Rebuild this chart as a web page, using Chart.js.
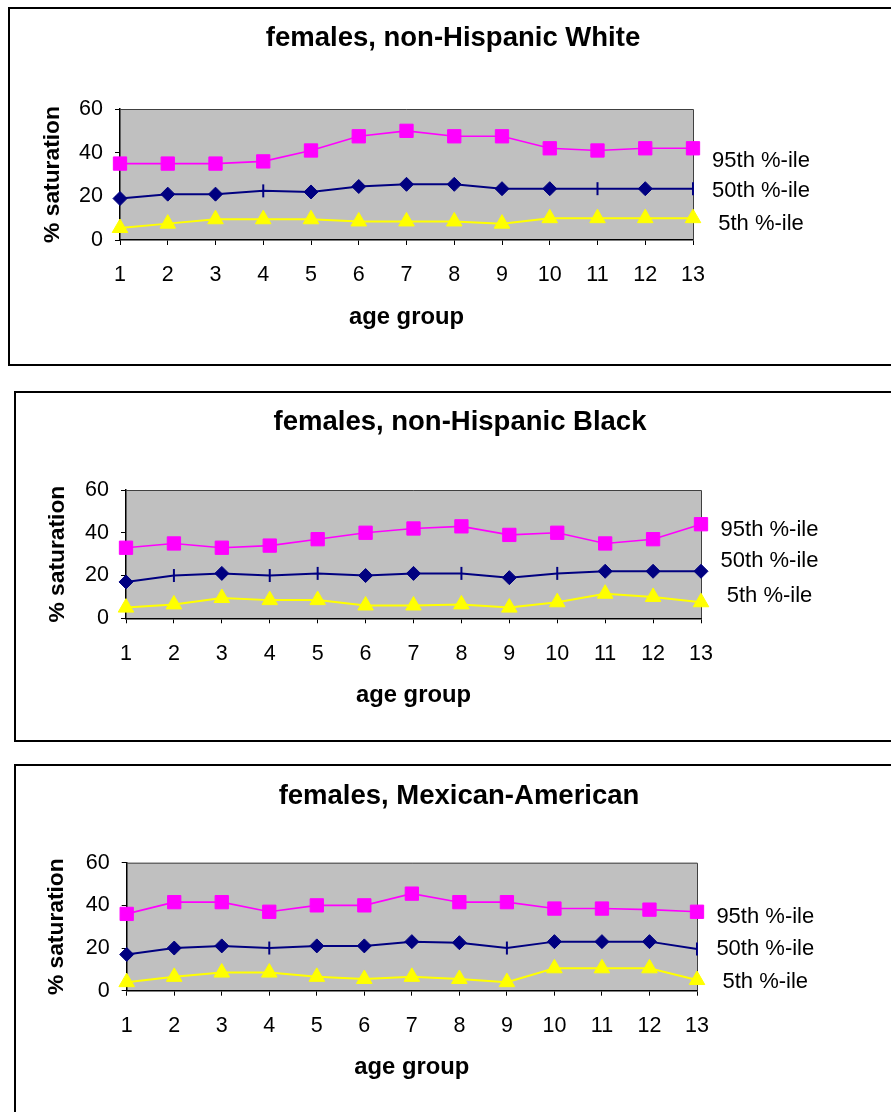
<!DOCTYPE html>
<html>
<head>
<meta charset="utf-8">
<script src="https://cdn.jsdelivr.net/npm/chart.js@4.4.1/dist/chart.umd.min.js"></script>
<style>
  html, body { margin: 0; padding: 0; background: #fff; width: 891px; height: 1112px; overflow: hidden; }
  canvas { position: absolute; }
  .box { position: absolute; border: 2px solid #000; box-sizing: border-box; pointer-events: none; }
</style>
</head>
<body>
<canvas id="cWhite"></canvas>
<canvas id="cBlack"></canvas>
<canvas id="cMex"></canvas>
<div class="box" style="left:8px;top:7px;width:890px;height:359px"></div>
<div class="box" style="left:14px;top:391px;width:892px;height:351px"></div>
<div class="box" style="left:14px;top:764px;width:890px;height:360px"></div>
<script>
// age groups on the x axis
const ageGroups = ['1', '2', '3', '4', '5', '6', '7', '8', '9', '10', '11', '12', '13'];
const seriesNames = ['95th %-ile', '50th %-ile', '5th %-ile'];
const yTicks = [0, 20, 40, 60];

// females, non-Hispanic White
const whiteP95 = [35, 35, 35, 36, 41, 47.5, 50, 47.5, 47.5, 42, 41, 42, 42];
const whiteP50 = [19, 21, 21, 22.5, 22, 24.5, 25.5, 25.5, 23.5, 23.5, 23.5, 23.5, 23.5];
const whiteP5  = [5.5, 7.5, 9.5, 9.5, 9.5, 8.5, 8.5, 8.5, 7.5, 10, 10, 10, 10];

// females, non-Hispanic Black
const blackP95 = [33, 35, 33, 34, 37, 40, 42, 43, 39, 40, 35, 37, 44];
const blackP50 = [17, 20, 21, 20, 21, 20, 21, 21, 19, 21, 22, 22, 22];
const blackP5  = [5, 6.5, 9.5, 8.5, 8.5, 6, 6, 6.5, 5, 7.5, 11.5, 10, 7.5];

// females, Mexican-American
const mexP95 = [36, 41.5, 41.5, 37, 40, 40, 45.5, 41.5, 41.5, 38.5, 38.5, 38, 37];
const mexP50 = [17, 20, 21, 20, 21, 21, 23, 22.5, 20, 23, 23, 23, 19.5];
const mexP5  = [4, 6.5, 8.5, 8.5, 6.5, 5.5, 6.5, 5.5, 4, 10.5, 10.5, 10.5, 5];

// median points whose marker shows only as a short vertical bar
const whiteBarPts = [3, 10, 12];
const blackBarPts = [1, 3, 4, 7, 9];
const mexBarPts = [3, 8, 12];

const FONT = '"Liberation Sans", Arial, Helvetica, sans-serif';
const TICK_SIZE = 21.5;
const Y_TITLE_SIZE = 22.8;
const X_TITLE_SIZE = 23.8;

// paints the grey plot area, its frame, the chart title and the text-only key
const framePlugin = {
  id: 'frame',
  beforeDraw(chart) {
    const a = chart.chartArea, ctx = chart.ctx;
    ctx.save();
    ctx.fillStyle = '#C0C0C0';
    ctx.fillRect(a.left, a.top, a.right - a.left, a.bottom - a.top);
    ctx.restore();
  },
  beforeDatasetsDraw(chart) {
    const a = chart.chartArea, ctx = chart.ctx;
    ctx.save();
    ctx.strokeStyle = '#404040';
    ctx.lineWidth = 1;
    ctx.beginPath();
    ctx.moveTo(a.left, a.top + 0.5);
    ctx.lineTo(a.right + 0.5, a.top + 0.5);
    ctx.lineTo(a.right + 0.5, a.bottom);
    ctx.stroke();
    ctx.restore();
  },
  afterDraw(chart, args, opts) {
    const a = chart.chartArea, ctx = chart.ctx;
    ctx.save();
    ctx.fillStyle = '#000';
    ctx.textAlign = 'center';
    ctx.textBaseline = 'alphabetic';
    ctx.font = 'bold 27.5px ' + FONT;
    ctx.fillText(opts.title, chart.width / 2, opts.titleBaseline);
    ctx.font = '22px ' + FONT;
    ctx.textBaseline = 'middle';
    chart.data.datasets.forEach((ds, i) => {
      ctx.fillText(ds.label, a.right + opts.keyDX, opts.keyY[i]);
    });
    ctx.restore();
  }
};

function medianMarks(barPts) {
  const style = [], radius = [], rot = [], bw = [];
  ageGroups.forEach((_, i) => {
    const bar = barPts.includes(i);
    style.push(bar ? 'line' : 'rectRot');
    radius.push(bar ? 6.5 : 7);
    rot.push(bar ? 90 : 0);
    bw.push(bar ? 2 : 1);
  });
  return { style, radius, rot, bw };
}

function makeChart(id, L, title, p95, p50, p5, barPts) {
  const canvas = document.getElementById(id);
  canvas.width = L.w;
  canvas.height = L.h;
  canvas.style.left = L.x + 'px';
  canvas.style.top = L.y + 'px';

  const padL = L.yTitleX - Y_TITLE_SIZE * 1.2 / 2;
  const padB = L.h - L.xTitleY - X_TITLE_SIZE * 1.2 / 2;
  const yW = L.area.l - padL;
  const xH = L.h - padB - L.area.b;
  const m = medianMarks(barPts);

  const gridOpts = { display: true, drawOnChartArea: false, drawTicks: true, tickLength: 5, color: '#000', lineWidth: 1 };
  const borderOpts = { display: true, color: '#000', width: 1.5 };

  return new Chart(canvas, {
    type: 'line',
    data: {
      labels: ageGroups,
      datasets: [
        {
          label: seriesNames[0], data: p95,
          borderColor: '#FF00FF', backgroundColor: '#FF00FF', borderWidth: 1.6,
          pointStyle: 'rect', pointRadius: 9.4, pointBorderWidth: 1,
          pointBackgroundColor: '#FF00FF', pointBorderColor: '#FF00FF',
          tension: 0, clip: false
        },
        {
          label: seriesNames[1], data: p50,
          borderColor: '#000080', backgroundColor: '#000080', borderWidth: 2,
          pointStyle: m.style, pointRadius: m.radius, pointRotation: m.rot, pointBorderWidth: m.bw,
          pointBackgroundColor: '#000080', pointBorderColor: '#000080',
          tension: 0, clip: false
        },
        {
          label: seriesNames[2], data: p5,
          borderColor: '#FFFF00', backgroundColor: '#FFFF00', borderWidth: 2,
          pointStyle: 'triangle', pointRadius: 9, pointBorderWidth: 1,
          pointBackgroundColor: '#FFFF00', pointBorderColor: '#FFFF00',
          tension: 0, clip: false
        }
      ]
    },
    options: {
      responsive: false,
      animation: false,
      events: [],
      layout: { padding: { left: padL, top: L.area.t, right: L.w - L.area.r, bottom: padB } },
      plugins: {
        legend: { display: false },
        tooltip: { enabled: false },
        title: { display: false },
        frame: { title: title, titleBaseline: L.titleBaseline, keyDX: L.keyDX, keyY: L.keyY }
      },
      scales: {
        x: {
          type: 'category',
          offset: false,
          grid: gridOpts,
          border: borderOpts,
          ticks: { color: '#000', font: { family: FONT, size: TICK_SIZE }, padding: 17.5, autoSkip: false, maxRotation: 0 },
          title: { display: true, text: 'age group', color: '#000', font: { family: FONT, size: X_TITLE_SIZE, weight: 'bold' }, padding: 0 },
          afterFit(s) { s.height = xH; }
        },
        y: {
          min: 0, max: 60,
          afterBuildTicks(s) { s.ticks = yTicks.map(v => ({ value: v })); },
          grid: gridOpts,
          border: borderOpts,
          ticks: { color: '#000', font: { family: FONT, size: TICK_SIZE }, padding: 12 },
          title: { display: true, text: '% saturation', color: '#000', font: { family: FONT, size: Y_TITLE_SIZE, weight: 'bold' }, padding: 0 },
          afterFit(s) { s.width = yW; }
        }
      }
    },
    plugins: [framePlugin]
  });
}

makeChart('cWhite', {
  x: 8, y: 7, w: 890, h: 358,
  area: { l: 112, t: 102, r: 685, b: 233 },
  yTitleX: 44.5, xTitleY: 310, titleBaseline: 39,
  keyDX: 68, keyY: [153.5, 183.5, 217.3]
}, 'females, non-Hispanic White', whiteP95, whiteP50, whiteP5, whiteBarPts);

makeChart('cBlack', {
  x: 14, y: 391, w: 892, h: 351,
  area: { l: 112, t: 99, r: 687, b: 227.3 },
  yTitleX: 43.5, xTitleY: 304.4, titleBaseline: 39,
  keyDX: 68.5, keyY: [138.8, 169.5, 204.5]
}, 'females, non-Hispanic Black', blackP95, blackP50, blackP5, blackBarPts);

makeChart('cMex', {
  x: 14, y: 764, w: 890, h: 348,
  area: { l: 112.7, t: 98.7, r: 683, b: 226.7 },
  yTitleX: 43.2, xTitleY: 303.7, titleBaseline: 40,
  keyDX: 68.3, keyY: [153, 184.5, 217.8]
}, 'females, Mexican-American', mexP95, mexP50, mexP5, mexBarPts);
</script>
</body>
</html>
